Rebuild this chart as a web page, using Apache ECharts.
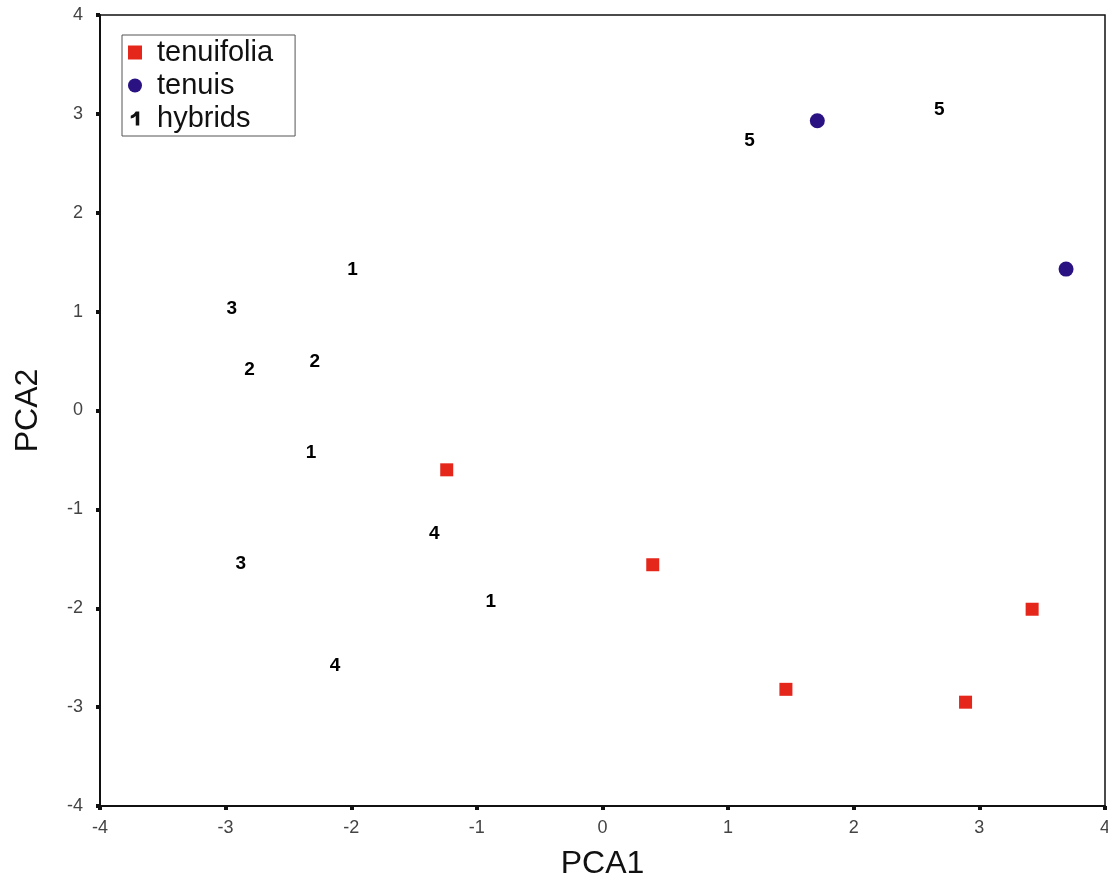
<!DOCTYPE html>
<html>
<head>
    <meta charset="utf-8"/>
    <script src="https://cdn.jsdelivr.net/npm/echarts@6/dist/echarts.min.js"></script>
    <style>
        body { margin: 0; background: #fff; }
        #main { width: 1108px; height: 893px; }
    </style>
</head>
<body>
<div id="main"></div>
<script type="text/javascript">
    // axis ticks
    var axisTicks = [-4, -3, -2, -1, 0, 1, 2, 3, 4];

    // tenuifolia (red squares): [PCA1, PCA2]
    var tenuifolia = [
        [-1.24, -0.60],
        [0.40, -1.56],
        [1.46, -2.82],
        [2.89, -2.95],
        [3.42, -2.01]
    ];

    // tenuis (blue circles)
    var tenuis = [
        [1.71, 2.93],
        [3.69, 1.43]
    ];

    // hybrids: [PCA1, PCA2, group number]
    var hybrids = [
        [1.17, 2.73, 5],
        [2.68, 3.04, 5],
        [-1.99, 1.42, 1],
        [-2.95, 1.03, 3],
        [-2.81, 0.41, 2],
        [-2.29, 0.49, 2],
        [-2.32, -0.43, 1],
        [-1.34, -1.25, 4],
        [-2.88, -1.55, 3],
        [-0.89, -1.93, 1],
        [-2.13, -2.58, 4]
    ];

    var font = 'Liberation Sans, Arial, sans-serif';
    var myChart = echarts.init(document.getElementById('main'));

    function axis(name, gap, labelMargin) {
        return {
            type: 'value',
            min: axisTicks[0],
            max: axisTicks[axisTicks.length - 1],
            interval: 1,
            name: name,
            nameLocation: 'middle',
            nameGap: gap,
            nameTextStyle: {fontSize: 32, color: '#111', fontFamily: font},
            splitLine: {show: false},
            axisLine: {show: true, onZero: false, lineStyle: {color: '#111', width: 2}},
            axisTick: {show: true, length: 4, lineStyle: {color: '#111', width: 4}},
            axisLabel: {fontSize: 18, color: '#444', fontFamily: font, margin: labelMargin}
        };
    }

    var option = {
        animation: false,
        grid: {
            left: 100, right: 3, top: 15, bottom: 87,
            outerBoundsMode: 'none',
            show: true, borderColor: '#111', borderWidth: 1.5
        },
        legend: {
            orient: 'vertical',
            left: 122,
            top: 35,
            padding: [3, 22, 3, 6],
            itemGap: 4,
            itemWidth: 14,
            itemHeight: 14,
            borderColor: '#555',
            borderWidth: 1,
            textStyle: {fontSize: 29, color: '#111', fontFamily: font, padding: [0, 0, 0, 10]},
            data: [
                {name: 'tenuifolia', icon: 'rect'},
                {name: 'tenuis', icon: 'circle'},
                {name: 'hybrids', icon: 'path://M5,0 L8.5,0 L8.5,14 L5,14 L5,4.5 Q3,6.5 0,7 L0,4.3 Q3.5,3 5,0 Z',
                    itemStyle: {color: '#111'}}
            ]
        },
        xAxis: axis('PCA1', 42, 13),
        yAxis: axis('PCA2', 56, 17),
        series: [
            {
                name: 'tenuifolia',
                type: 'scatter',
                symbol: 'rect',
                symbolSize: 13,
                itemStyle: {color: '#e4261b', opacity: 1},
                data: tenuifolia
            },
            {
                name: 'tenuis',
                type: 'scatter',
                symbol: 'circle',
                symbolSize: 15,
                itemStyle: {color: '#2a1282', opacity: 1},
                data: tenuis
            },
            {
                name: 'hybrids',
                type: 'scatter',
                symbolSize: 1,
                itemStyle: {color: 'rgba(0,0,0,0)', opacity: 1},
                label: {
                    show: true,
                    position: 'inside',
                    formatter: function (p) { return p.value[2]; },
                    fontSize: 19,
                    fontWeight: 'bold',
                    color: '#000',
                    fontFamily: font
                },
                data: hybrids
            }
        ]
    };
    myChart.setOption(option);
</script>
</body>
</html>
